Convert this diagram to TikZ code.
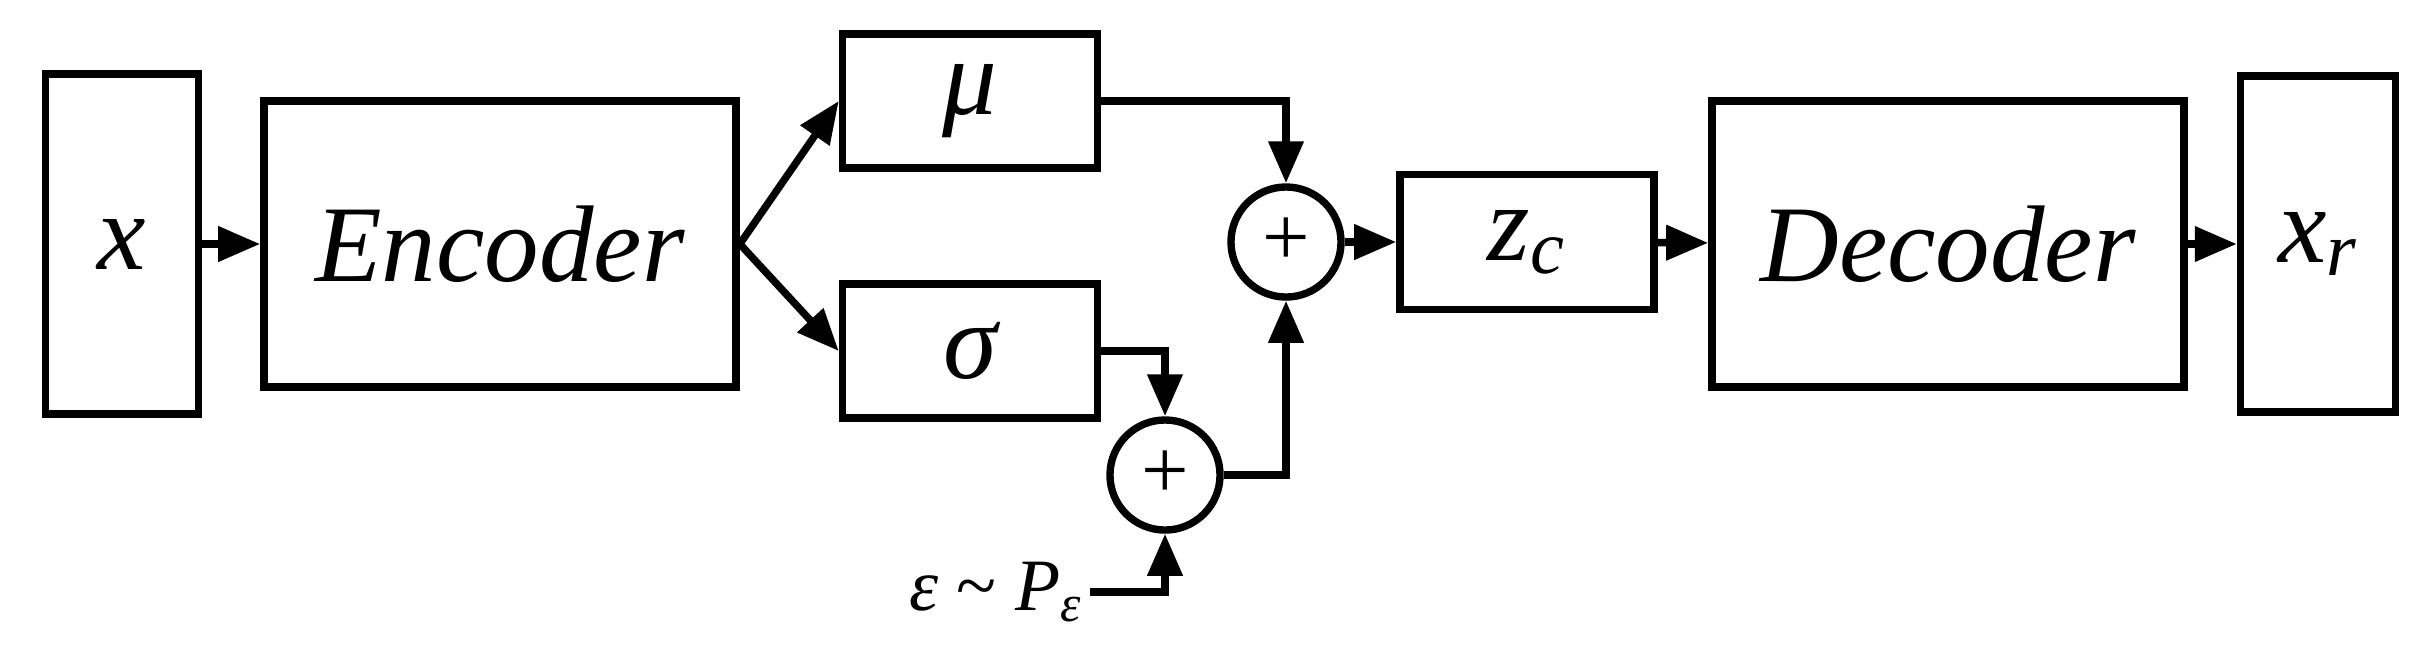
\documentclass[tikz,border=0pt]{standalone}
\usepackage{fontspec}
\setmainfont{Liberation Serif}
\usetikzlibrary{arrows.meta}
\begin{document}
\begin{tikzpicture}[x=0.01cm,y=-0.01cm,
  blk/.style={draw,line width=2.1pt,inner sep=0pt,font=\fontsize{31}{34}\selectfont\itshape},
  sumn/.style={draw,circle,line width=2.1pt,minimum size=1.1cm,inner sep=0pt,font=\fontsize{24}{26}\selectfont},
  arr/.style={line width=2.1pt,-{Triangle[length=0.42cm,width=0.34cm]}}]
\useasboundingbox (0,0) rectangle (2427,653);
\node[blk,minimum width=1.53cm,minimum height=3.4cm] (x) at (122,244) {x};
\node[blk,minimum width=4.72cm,minimum height=2.86cm] (enc) at (500,244) {Encoder};
\node[blk,minimum width=2.55cm,minimum height=1.34cm] (mu) at (970,101) {μ};
\node[blk,minimum width=2.55cm,minimum height=1.34cm] (sig) at (970,351) {σ};
\node[sumn] (s1) at (1286,242) {+};
\node[sumn] (s2) at (1165,475) {+};
\node[blk,minimum width=2.54cm,minimum height=1.35cm] (zc) at (1527,242) {z\textsubscript{c}};
\node[blk,minimum width=4.72cm,minimum height=2.86cm] (dec) at (1948,244) {Decoder};
\node[blk,minimum width=1.55cm,minimum height=3.36cm] (xr) at (2318,244) {x\textsubscript{r}};
\node[font=\fontsize{21}{23}\selectfont,anchor=east,inner sep=2pt] (eps) at (1090,592) {\textit{ε} \textasciitilde{} \textit{P}\textsubscript{\textit{ε}}};
\draw[arr] (x) -- (enc);
\draw[arr] (enc.east) -- (mu.west);
\draw[arr] (enc.east) -- (sig.west);
\draw[arr] (mu.east) -| (s1.north);
\draw[arr] (sig.east) -| (s2.north);
\draw[arr] (s2.east) -| (s1.south);
\draw[arr] (eps.east) -| (s2.south);
\draw[arr] (s1) -- (zc);
\draw[arr] (zc) -- (dec);
\draw[arr] (dec) -- (xr);
\end{tikzpicture}
\end{document}
